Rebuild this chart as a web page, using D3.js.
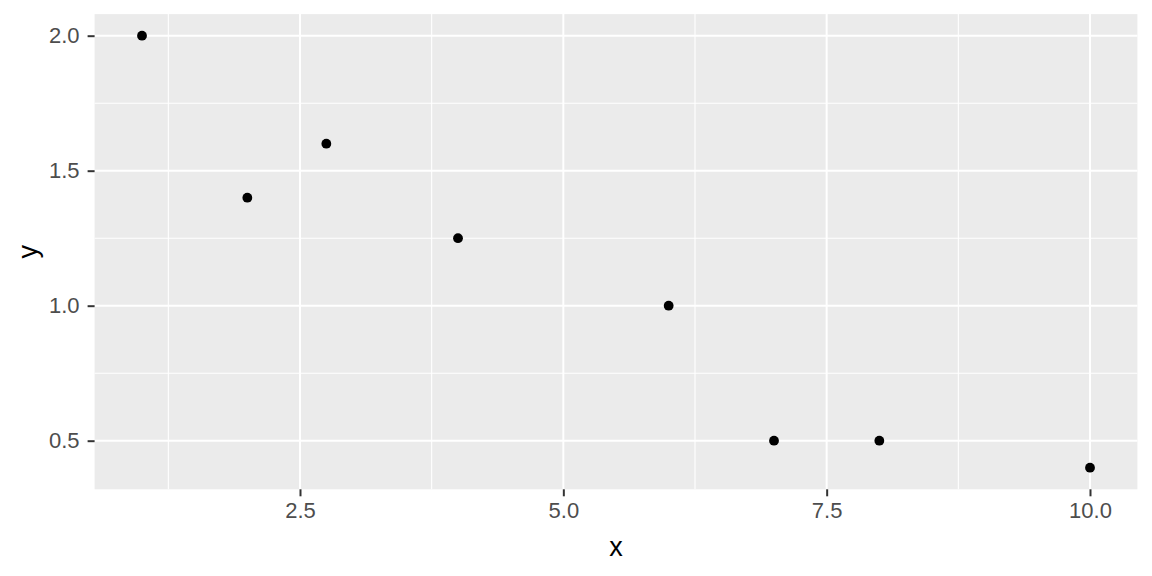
<!DOCTYPE html>
<html>
<head>
<meta charset="utf-8">
<script src="https://cdn.jsdelivr.net/npm/d3@7"></script>
<style>
  body { margin: 0; background: #fff; }
  text { font-family: "Liberation Sans", Arial, sans-serif; }
</style>
</head>
<body>
<script>
let xValues = [1, 2, 2.75, 4, 6, 7, 8, 10];
let yValues = [2.0, 1.4, 1.6, 1.25, 1.0, 0.5, 0.5, 0.4];
let xTicks = [2.5, 5.0, 7.5, 10.0];
let yTicks = [0.5, 1.0, 1.5, 2.0];
let xMinor = [1.25, 3.75, 6.25, 8.75];
let yMinor = [0.75, 1.25, 1.75];

let width = 1152, height = 576;
let panel = { left: 94.6, right: 1137.4, top: 14.1, bottom: 489.3 };

let svg = d3.select("body").append("svg")
    .attr("width", width)
    .attr("height", height);

// ggplot style 5% expansion
let xr = d3.extent(xValues), yr = d3.extent(yValues);
let xPad = (xr[1] - xr[0]) * 0.05, yPad = (yr[1] - yr[0]) * 0.05;

let xScale = d3.scaleLinear()
    .domain([xr[0] - xPad, xr[1] + xPad])
    .range([panel.left, panel.right]);
let yScale = d3.scaleLinear()
    .domain([yr[0] - yPad, yr[1] + yPad])
    .range([panel.bottom, panel.top]);

svg.append("rect")
    .attr("x", panel.left)
    .attr("y", panel.top)
    .attr("width", panel.right - panel.left)
    .attr("height", panel.bottom - panel.top)
    .attr("fill", "#EBEBEB");

let grid = svg.append("g").attr("stroke", "#fff");

grid.selectAll(".xminor").data(xMinor).enter().append("line")
    .attr("x1", d => xScale(d)).attr("x2", d => xScale(d))
    .attr("y1", panel.top).attr("y2", panel.bottom)
    .attr("stroke-width", 1.1);
grid.selectAll(".yminor").data(yMinor).enter().append("line")
    .attr("y1", d => yScale(d)).attr("y2", d => yScale(d))
    .attr("x1", panel.left).attr("x2", panel.right)
    .attr("stroke-width", 1.1);
grid.selectAll(".xmajor").data(xTicks).enter().append("line")
    .attr("x1", d => xScale(d)).attr("x2", d => xScale(d))
    .attr("y1", panel.top).attr("y2", panel.bottom)
    .attr("stroke-width", 2);
grid.selectAll(".ymajor").data(yTicks).enter().append("line")
    .attr("y1", d => yScale(d)).attr("y2", d => yScale(d))
    .attr("x1", panel.left).attr("x2", panel.right)
    .attr("stroke-width", 2);

// axes
let xAxis = svg.append("g")
    .attr("transform", `translate(0,${panel.bottom})`)
    .call(d3.axisBottom(xScale).tickValues(xTicks).tickFormat(d3.format(".1f"))
        .tickSize(7).tickPadding(6));
let yAxis = svg.append("g")
    .attr("transform", `translate(${panel.left},0)`)
    .call(d3.axisLeft(yScale).tickValues(yTicks).tickFormat(d3.format(".1f"))
        .tickSize(7).tickPadding(8));

[xAxis, yAxis].forEach(a => {
    a.select(".domain").remove();
    a.selectAll(".tick line").attr("stroke", "#333333").attr("stroke-width", 2);
    a.selectAll(".tick text")
        .attr("fill", "#4D4D4D")
        .style("font-size", "22px")
        .style("font-family", "'Liberation Sans', Arial, sans-serif");
});

// points
svg.selectAll("circle")
    .data(xValues)
    .enter()
    .append("circle")
    .attr("cx", d => xScale(d))
    .attr("cy", (d, i) => yScale(yValues[i]))
    .attr("r", 4.9)
    .attr("fill", "black");

// axis titles
svg.append("text")
    .attr("x", (panel.left + panel.right) / 2)
    .attr("y", 556)
    .attr("text-anchor", "middle")
    .style("font-size", "27px")
    .text("x");

svg.append("text")
    .attr("transform", `translate(37,${(panel.top + panel.bottom) / 2}) rotate(-90)`)
    .attr("text-anchor", "middle")
    .style("font-size", "27px")
    .text("y");
</script>
</body>
</html>
